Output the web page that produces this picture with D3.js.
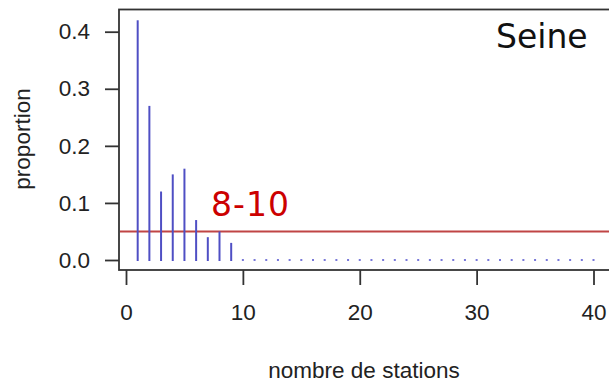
<!DOCTYPE html>
<html><head><meta charset="utf-8">
<script src="https://cdn.jsdelivr.net/npm/d3@7/dist/d3.min.js"></script>
<style>body{margin:0;background:#fff}svg{display:block}</style>
</head><body>
<svg id="c" width="609" height="383"></svg>
<script>
const stations = [1,2,3,4,5,6,7,8,9,10,11,12,13,14,15,16,17,18,19,20,21,22,23,24,25,26,27,28,29,30,31,32,33,34,35,36,37,38,39,40];
const proportions = [0.42,0.27,0.12,0.15,0.16,0.07,0.04,0.05,0.03,0,0,0,0,0,0,0,0,0,0,0,0,0,0,0,0,0,0,0,0,0,0,0,0,0,0,0,0,0,0,0];
const xTicks = [0,10,20,30,40];
const yTicks = [0,0.1,0.2,0.3,0.4];
const threshold = 0.05;
const rangeLabel = "8-10";
const panelLabel = "Seine";

const svg = d3.select("#c");
const x = d3.scaleLinear().domain([0,40]).range([126,593.5]);
const y = d3.scaleLinear().domain([0,0.4]).range([260,31.7]);
const frame = {left:119, top:9.5, bottom:270, right:640};
const axisCol = "#333";
const lab = "Liberation Sans, Arial, sans-serif";

// frame
svg.append("rect").attr("x",frame.left).attr("y",frame.top)
  .attr("width",frame.right-frame.left).attr("height",frame.bottom-frame.top)
  .attr("fill","none").attr("stroke",axisCol).attr("stroke-width",1.8);

// y axis
const yAxis = svg.append("g").attr("transform",`translate(${frame.left},0)`)
  .call(d3.axisLeft(y).tickValues(yTicks).tickFormat(d3.format(".1f")).tickSize(14).tickPadding(15));
yAxis.select(".domain").remove();
yAxis.selectAll("line").attr("stroke",axisCol).attr("stroke-width",1.8);
yAxis.selectAll("text").attr("font-family",lab).attr("font-size",22.5).attr("fill","#222");

// x axis
const xAxis = svg.append("g").attr("transform",`translate(0,${frame.bottom})`)
  .call(d3.axisBottom(x).tickValues(xTicks).tickFormat(d3.format("d")).tickSize(15).tickPadding(19));
xAxis.select(".domain").remove();
xAxis.selectAll("line").attr("stroke",axisCol).attr("stroke-width",1.8);
xAxis.selectAll("text").attr("font-family",lab).attr("font-size",22.5).attr("fill","#222");

// axis titles
svg.append("text").attr("x",364).attr("y",378).attr("text-anchor","middle")
  .attr("font-family",lab).attr("font-size",22.5).attr("fill","#222").text("nombre de stations");
svg.append("text").attr("transform","translate(30,139) rotate(-90)").attr("text-anchor","middle")
  .attr("font-family",lab).attr("font-size",22.5).attr("fill","#222").text("proportion");

const data = stations.map((s,i)=>({s, p:proportions[i]}));

// threshold line
svg.append("line").attr("x1",frame.left+1).attr("x2",609)
  .attr("y1",y(threshold)).attr("y2",y(threshold))
  .attr("stroke","#c04545").attr("stroke-width",2);

// spikes
svg.selectAll(".bar").data(data.filter(d=>d.p>0)).join("line")
  .attr("x1",d=>x(d.s)).attr("x2",d=>x(d.s))
  .attr("y1",y(0)+1).attr("y2",d=>y(d.p))
  .attr("stroke","#4f4fc4").attr("stroke-width",2);
// zero-height spikes
svg.selectAll(".dot").data(data.filter(d=>d.p===0)).join("rect")
  .attr("x",d=>x(d.s)-1).attr("y",y(0)-1).attr("width",2).attr("height",2)
  .attr("fill","#7878d8");

// labels
svg.append("text").attr("x",211).attr("y",215.5)
  .attr("font-family","DejaVu Sans, Verdana, sans-serif").attr("font-size",33)
  .attr("letter-spacing",1).attr("fill","#cc0000").text(rangeLabel);
svg.append("text").attr("x",496).attr("y",48.3)
  .attr("font-family","DejaVu Sans, Verdana, sans-serif").attr("font-size",33)
  .attr("fill","#111").text(panelLabel);
</script>
</body></html>
